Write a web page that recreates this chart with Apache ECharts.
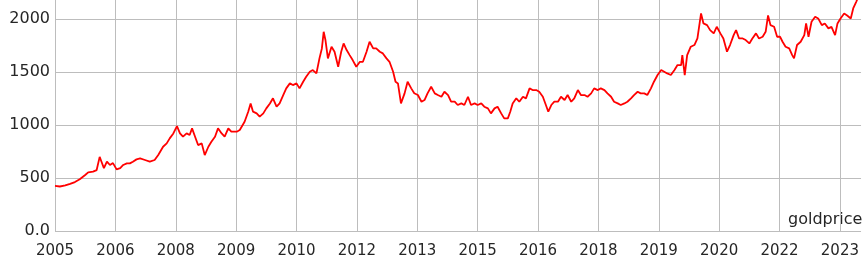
<!DOCTYPE html>
<html>
<head>
<meta charset="utf-8">
<script src="https://cdn.jsdelivr.net/npm/echarts@6/dist/echarts.min.js"></script>
<style>
html,body{margin:0;padding:0;background:#fff;}
#chart{width:862px;height:268px;}
</style>
</head>
<body>
<div id="chart"></div>
<script>
// x tick labels (one per tick period)
const tickLabels = ['2005','2006','2008','2009','2010','2012','2013','2015','2016','2018','2019','2020','2022','2023'];
// position of each sample, in tick periods from the first tick
const period = [0,0.08,0.17,0.25,0.33,0.41,0.50,0.55,0.63,0.69,0.74,0.77,0.81,0.86,0.91,0.96,1.02,1.08,1.13,1.19,1.24,1.29,1.35,1.41,1.49,1.57,
1.65,1.71,1.79,1.85,1.90,1.96,2.02,2.07,2.12,2.18,2.23,2.27,2.32,2.37,2.43,2.48,2.54,2.59,2.65,2.70,2.76,2.81,2.87,2.92,3.01,3.06,
3.14,3.20,3.24,3.28,3.34,3.39,3.45,3.50,3.56,3.61,3.67,3.72,3.78,3.83,3.89,3.94,4.00,4.05,4.11,4.16,4.22,4.27,4.33,4.38,4.42,4.45,4.48,4.52,4.58,
4.63,4.69,4.74,4.78,4.83,4.88,4.93,4.99,5.05,5.10,5.16,5.21,5.27,5.32,5.38,5.43,5.49,5.54,5.60,5.64,5.68,5.73,5.79,5.84,5.90,5.95,
6.01,6.07,6.12,6.17,6.23,6.29,6.34,6.40,6.45,6.51,6.56,6.62,6.67,6.73,6.78,6.84,6.89,6.95,7.00,7.06,7.11,7.17,7.22,7.28,7.33,7.39,7.44,
7.50,7.54,7.58,7.64,7.69,7.75,7.80,7.86,7.91,7.97,8.02,8.08,8.13,8.17,8.22,8.27,8.33,8.38,8.44,8.49,8.55,8.60,8.66,8.71,8.77,8.82,8.88,8.93,8.99,
9.04,9.10,9.15,9.21,9.26,9.32,9.37,9.43,9.48,9.54,9.59,9.65,9.70,9.76,9.81,9.87,9.92,9.98,10.04,10.09,10.14,10.20,10.26,10.31,10.37,10.39,10.43,10.47,
10.53,10.59,10.64,10.70,10.74,10.80,10.85,10.91,10.96,11.02,11.07,11.13,11.18,11.24,11.28,11.33,11.39,11.44,11.50,11.55,11.61,11.66,11.72,11.77,11.81,11.85,11.91,11.96,
12.01,12.05,12.10,12.16,12.21,12.24,12.29,12.35,12.41,12.44,12.48,12.53,12.59,12.64,12.70,12.75,12.81,12.86,12.92,12.96,13.01,13.07,13.12,13.18,13.22,13.27,13.32,13.36];
// gold price
const goldprice = [425,420,430,445,462,488,528,553,560,575,700,654,594,654,623,641,582,594,623,638,638,654,676,685,670,654,
670,717,795,827,874,921,990,921,890,921,906,969,890,811,827,717,795,842,890,969,921,890,969,937,937,953,
1031,1126,1204,1126,1110,1079,1110,1157,1204,1252,1173,1204,1283,1346,1393,1377,1393,1346,1409,1456,1503,1519,1487,1629,1723,1880,1800,1629,1739,
1692,1550,1692,1770,1708,1660,1613,1550,1597,1597,1692,1786,1723,1723,1692,1676,1629,1597,1503,1409,1393,1204,1299,1409,1346,1300,
1283,1220,1236,1299,1361,1299,1283,1267,1314,1283,1220,1220,1189,1204,1189,1267,1189,1204,1189,1204,1173,1157,1110,1157,1173,1110,1063,
1063,1126,1204,1252,1220,1267,1252,1346,1330,1330,1314,1267,1189,1126,1189,1220,1220,1267,1236,1283,1220,1252,1330,1283,1283,1267,1299,1346,1330,
1346,1330,1299,1267,1220,1204,1189,1204,1220,1252,1283,1314,1299,1299,1283,1346,1409,1472,1519,1503,1487,1472,1519,1566,1566,1660,1472,1660,
1739,1755,1817,2053,1959,1943,1896,1865,1927,1865,1817,1692,1755,1849,1896,1817,1817,1802,1770,1817,1865,1817,1833,1880,2034,1943,1927,1833,
1833,1786,1739,1723,1660,1629,1755,1786,1849,1959,1833,1975,2022,2006,1943,1959,1912,1927,1849,1959,2006,2053,2034,2006,2100,2163,2230,2260];

const chart = echarts.init(document.getElementById('chart'), null, {renderer:'canvas'});
const gridColor = '#bdbdbd';
const textColor = '#262626';
const font = 'DejaVu Sans';
chart.setOption({
  animation:false,
  grid:{left:55, right:0, top:0, bottom:37, containLabel:false},
  xAxis:{
    type:'value', min:0, max:13.35, interval:1,
    axisLine:{show:false}, axisTick:{show:false},
    splitLine:{show:true, showMaxLine:false, lineStyle:{color:gridColor, width:1}},
    axisLabel:{color:textColor, fontFamily:font, fontSize:15, margin:13, showMaxLabel:false,
      formatter:function(v){ return Math.abs(v - Math.round(v)) < 1e-6 ? (tickLabels[Math.round(v)] || '') : ''; }}
  },
  yAxis:{
    type:'value', min:0, max:2180, interval:500,
    axisLine:{show:false}, axisTick:{show:false},
    splitLine:{show:true, showMaxLine:false, lineStyle:{color:gridColor, width:1}},
    axisLabel:{color:textColor, fontFamily:font, fontSize:16, margin:5, showMaxLabel:false,
      formatter:function(v){ return v === 0 ? '0.0' : (v % 500 === 0 ? String(v) : ''); }}
  },
  graphic:[{type:'text', left:788, top:212, style:{text:'goldprice', fill:textColor, font:'16px DejaVu Sans'}}],
  series:[{
    name:'goldprice', type:'line', showSymbol:false, symbol:'none', clip:true,
    lineStyle:{color:'#ff0000', width:1.8},
    data: period.map(function(p,i){ return [p, goldprice[i]]; })
  }]
});
</script>
</body>
</html>
